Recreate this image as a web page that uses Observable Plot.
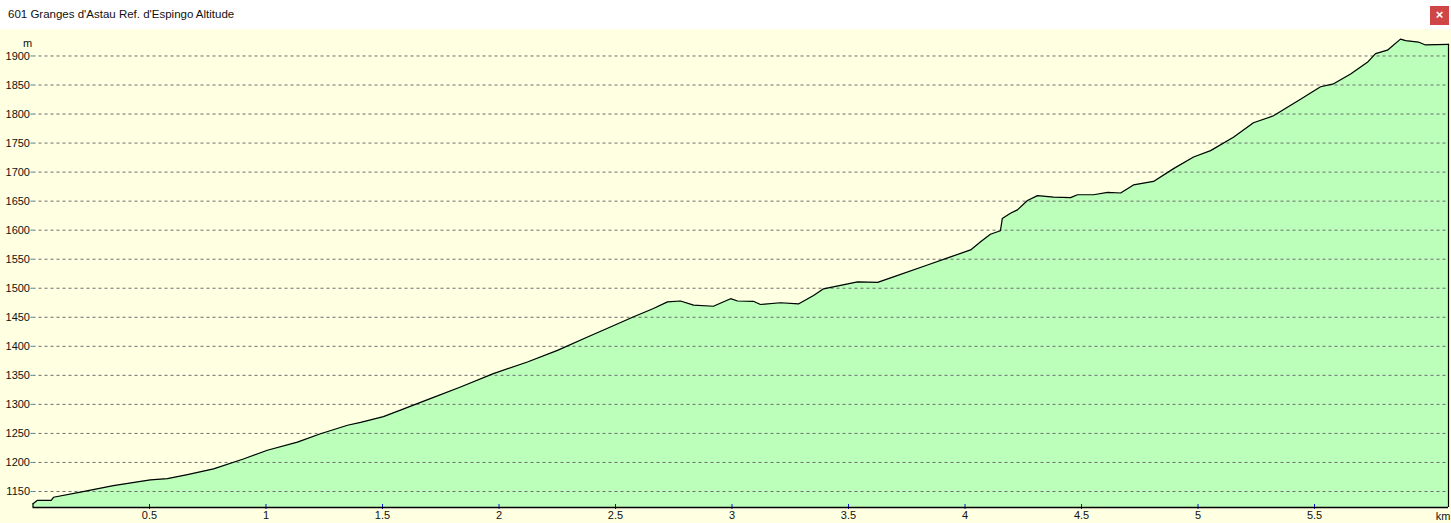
<!DOCTYPE html>
<html>
<head>
<meta charset="utf-8">
<script src="https://cdn.jsdelivr.net/npm/d3@7"></script>
<script src="https://cdn.jsdelivr.net/npm/@observablehq/plot@0.6"></script>
<style>
  html, body { margin: 0; padding: 0; background: #ffffe1; overflow: hidden; }
  #titlebar { position: relative; height: 29px; background: #ffffff; font-family: "Liberation Sans", Arial, sans-serif; font-size: 11.5px; color: #111; }
  #titlebar .t { position: absolute; left: 8px; top: 8px; }
  #titlebar .x { position: absolute; left: 1430px; top: 6px; width: 19px; height: 19px; background: #d04545; color: #fff; font-size: 13px; line-height: 18px; text-align: center; font-weight: bold; }
  #chart svg { display: block; }
</style>
</head>
<body>
<div id="titlebar"><span class="t">601 Granges d'Astau Ref. d'Espingo Altitude</span><span class="x">×</span></div>
<div id="chart"></div>
<script>
const distanceKm = [0.0, 0.018, 0.078, 0.088, 0.204, 0.345, 0.504, 0.577, 0.663, 0.775, 0.903, 1.006, 1.135, 1.234, 1.350, 1.406, 1.504, 1.577, 1.719, 1.835, 1.976, 2.122, 2.251, 2.380, 2.466, 2.578, 2.663, 2.723, 2.779, 2.835, 2.920, 2.994, 3.024, 3.092, 3.122, 3.208, 3.285, 3.350, 3.393, 3.466, 3.539, 3.625, 3.693, 3.839, 3.938, 4.024, 4.067, 4.109, 4.152, 4.160, 4.195, 4.225, 4.268, 4.311, 4.380, 4.453, 4.483, 4.552, 4.612, 4.668, 4.723, 4.809, 4.895, 4.981, 5.054, 5.152, 5.238, 5.324, 5.440, 5.526, 5.582, 5.655, 5.727, 5.762, 5.813, 5.869, 5.891, 5.946, 5.976, 6.075];
const altitudeM = [1129, 1134.5, 1134.5, 1140, 1149, 1160, 1170, 1172, 1179, 1189, 1206, 1221, 1235, 1249.5, 1264, 1269, 1279, 1290, 1312, 1330, 1353, 1373, 1393, 1416, 1431, 1451, 1465, 1476.5, 1478, 1471, 1469, 1482, 1478, 1477.5, 1472, 1475, 1473, 1487.5, 1499, 1505, 1511, 1510, 1519.5, 1540, 1554, 1566, 1580, 1593, 1599, 1620, 1629, 1635, 1651, 1659.5, 1657, 1656, 1661, 1661, 1665, 1664, 1678, 1684, 1706, 1726, 1737, 1760, 1785, 1797, 1825.5, 1847, 1852, 1869, 1889, 1904, 1910, 1929, 1926.5, 1924, 1919, 1920];
const yTicks = [1150, 1200, 1250, 1300, 1350, 1400, 1450, 1500, 1550, 1600, 1650, 1700, 1750, 1800, 1850, 1900];
const xTicks = [0.5, 1, 1.5, 2, 2.5, 3, 3.5, 4, 4.5, 5, 5.5];
const xUnit = "km";
const yUnit = "m";

const data = distanceKm.map((d, i) => ({km: d, alt: altitudeM[i]}));
const yMin = 1122.4, yMax = 1945.6;
const first = data[0], last = data[data.length - 1];
const fontFam = "Liberation Sans, Arial, sans-serif";

const chart = Plot.plot({
  width: 1451,
  height: 494,
  marginLeft: 32.5,
  marginRight: 3,
  marginTop: 0,
  marginBottom: 16,
  style: {background: "#ffffe1", fontFamily: fontFam, fontSize: "11px", color: "#111"},
  x: {domain: [0, 6.075], axis: null},
  y: {domain: [yMin, yMax], axis: null},
  marks: [
    Plot.areaY(data, {x: "km", y1: yMin, y2: "alt", fill: "#bbffbb"}),
    Plot.gridY(yTicks, {stroke: "#6e6e6e", strokeOpacity: 1, strokeDasharray: "3,3"}),
    Plot.axisY(yTicks, {label: null, tickSize: 2, tickPadding: 1, stroke: "#0a9ad8", fill: "#111", fontSize: 11, tickFormat: d => String(d)}),
    Plot.axisX(xTicks, {label: null, tickSize: 5, dy: -3, stroke: "#1010e0", tickFormat: () => ""}),
    Plot.axisX(xTicks, {label: null, tickSize: 0, tickPadding: 4, fill: "#111", fontSize: 11, tickFormat: d => String(d)}),
    Plot.lineY(data, {x: "km", y: "alt", stroke: "#000", strokeWidth: 1.2}),
    Plot.ruleX([first, last], {x: "km", y1: yMin, y2: "alt", stroke: "#000", strokeWidth: 1.2}),
    Plot.ruleY([yMin], {stroke: "#000", strokeWidth: 1.5}),
    Plot.text([xUnit], {frameAnchor: "bottom-right", dx: 2, dy: 9, textAnchor: "end", lineAnchor: "middle", fill: "#111", fontSize: 11}),
    Plot.text([yUnit], {frameAnchor: "top-left", dx: -5.5, dy: 14, textAnchor: "middle", lineAnchor: "middle", fill: "#111", fontSize: 11})
  ]
});
document.getElementById("chart").appendChild(chart);
</script>
</body>
</html>
